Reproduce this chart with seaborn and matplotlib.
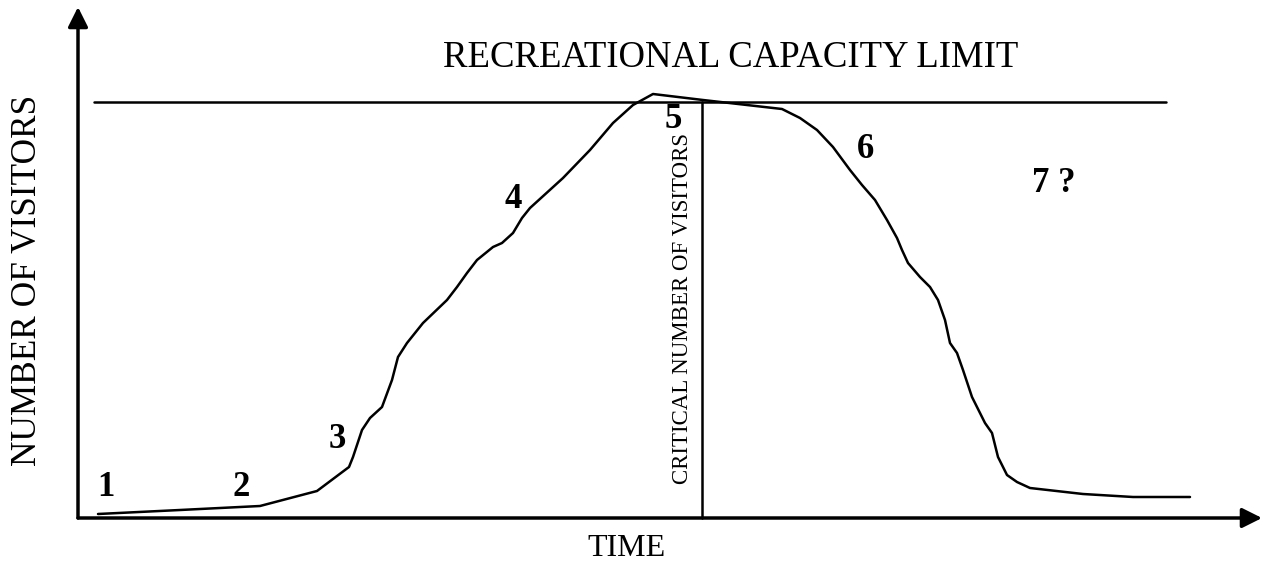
import matplotlib
matplotlib.use("Agg")
import matplotlib.pyplot as plt
import seaborn as sns

# curve: time (x) against number of visitors (y)
time = [20, 102, 182, 239, 271, 275, 284, 292, 304, 314, 320, 329, 345, 369,
        379, 389, 399, 415, 424, 435, 444, 452, 485, 512, 535, 555, 575, 625,
        704, 722, 739, 755, 772, 784, 797, 809, 819, 824, 830, 842, 852, 860,
        867, 872, 879, 885, 894, 907, 914, 920, 929, 939, 952, 1005, 1055, 1112]
visitors = [4, 8, 12, 27, 51, 61, 88, 100, 111, 138, 161, 175, 195, 218,
            231, 245, 258, 271, 275, 285, 300, 310, 340, 368, 395, 413, 424, 418,
            409, 400, 388, 371, 348, 333, 318, 298, 280, 268, 255, 241, 231, 218,
            198, 175, 165, 148, 121, 95, 85, 61, 43, 36, 30, 24, 21, 21]

capacity_limit = 416
limit_span = [16, 1088]
critical_time = 624
axis_end = [1184, 511]

stage_labels = ["1", "2", "3", "4", "5", "6", "7 ?"]
stage_time = [28, 163, 259, 435, 595, 787, 976]
stage_visitors = [30, 30, 79, 319, 399, 368, 335]

sns.set_style("white")
plt.rcParams["font.family"] = ["Liberation Serif", "DejaVu Serif"]
plt.rcParams["text.color"] = "black"

fig = plt.figure(figsize=(12.66, 5.62), dpi=100)
ax = fig.add_axes([0, 0, 1, 1])
ax.set_xlim(-78, 1188)
ax.set_ylim(-44, 518)
ax.set_axis_off()

# axes with arrow heads
arrow = dict(arrowstyle="-|>,head_length=0.8,head_width=0.4", lw=2.5,
             color="black", mutation_scale=15, shrinkA=0, shrinkB=0)
ax.annotate("", xy=(axis_end[0], 0), xytext=(0, 0), arrowprops=arrow)
ax.annotate("", xy=(0, axis_end[1]), xytext=(0, 0), arrowprops=arrow)

# capacity limit and critical number
ax.plot(limit_span, [capacity_limit, capacity_limit], color="black", lw=1.8)
ax.plot([critical_time, critical_time], [0, capacity_limit], color="black", lw=1.8)

sns.lineplot(x=time, y=visitors, sort=False, color="black", lw=1.8, ax=ax)
ax.lines[-1].set_solid_joinstyle("round")

for lab, t, v in zip(stage_labels, stage_time, stage_visitors):
    ax.text(t, v, lab, fontsize=25, fontweight="bold", ha="center", va="center")

ax.text(653, 460, "RECREATIONAL CAPACITY LIMIT", fontsize=26.5, ha="center", va="center")
ax.text(-50, 238, "NUMBER OF VISITORS", fontsize=25.4, rotation=90,
        ha="center", va="center")
ax.text(549, -30, "TIME", fontsize=23, ha="center", va="center")
ax.text(604, 210, "CRITICAL NUMBER OF VISITORS", fontsize=16.5, rotation=90,
        ha="center", va="center")

fig.savefig("out.png", dpi=100)
